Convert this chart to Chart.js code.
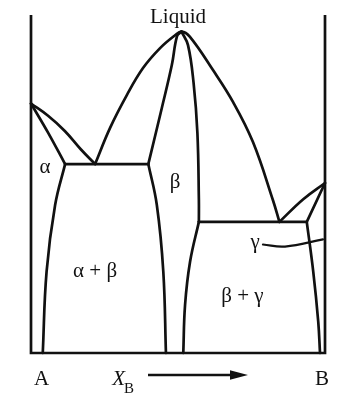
<!DOCTYPE html>
<html>
<head>
<meta charset="utf-8">
<script src="https://cdn.jsdelivr.net/npm/chart.js@4.4.1/dist/chart.umd.min.js"></script>
<style>
  html, body { margin: 0; padding: 0; background: #fff; }
  canvas { display: block; }
</style>
</head>
<body>
<canvas id="diagram" width="337" height="395"></canvas>
<script>
// Binary A–B phase diagram: x = mole % of B, y = temperature (arbitrary units, 0–1000)

// frame: the two pure-component axes joined by the base line
const frame = [[0, 1000], [0, 0], [100, 0], [100, 1000]];

// α side
const alphaLiquidus = [[0, 738], [5.8, 702], [11.5, 657], [17.0, 602], [21.8, 559]];
const alphaSolidus  = [[0, 738], [5.8, 652], [11.6, 559]];
const alphaSolvus   = [[11.6, 559], [8.2, 438], [5.3, 241], [4.0, 0]];
const eutectic      = [[11.6, 559], [39.9, 559]];

// congruently melting β and the liquidus over it
const liquidus = [
  [21.8, 559], [26.9, 666], [32.6, 763], [38.1, 843], [43.9, 902], [49.0, 940],
  [51.2, 951], [54.0, 936], [61.9, 837], [68.7, 743], [75.5, 624], [82.3, 452], [84.5, 388]
];
const betaSolidusLeft  = [[39.9, 559], [44.5, 725], [47.9, 852], [49.7, 938], [51.2, 951]];
const betaSolidusRight = [[51.2, 951], [53.4, 911], [55.3, 799], [56.6, 651], [57.1, 453], [57.1, 388]];
const betaSolvusLeft   = [[39.9, 559], [42.8, 438], [45.0, 241], [45.9, 0]];
const betaSolvusRight  = [[57.1, 388], [54.1, 270], [52.4, 142], [51.8, 0]];

// γ side with the peritectic
const peritectic    = [[57.1, 388], [93.8, 388]];
const gammaLiquidus = [[100, 503], [92.6, 455], [84.5, 388]];
const gammaSolidus  = [[100, 503], [93.8, 388]];
const gammaSolvus   = [[93.8, 388], [96.0, 241], [97.7, 93], [98.3, 0]];
const gammaLeader   = [[78.9, 321], [86.4, 315], [99.3, 336]];

// field labels
const fieldNames = ['Liquid', 'α', 'β', 'α + β', 'γ', 'β + γ'];
const fieldAnchors = [[50.0, 976], [4.8, 532], [49.0, 488], [21.8, 225], [76.2, 311], [71.9, 151]];

// axis captions
const endMembers = ['A', 'B'];
const endAnchors = [[3.6, -95], [99.0, -95]];
const compositionSymbol = ['X', 'B'];
const symbolAnchor = [27.6, -95];
const arrowSpan = [[39.8, -65], [73.8, -65]];

const toPts = arr => arr.map(([x, y]) => ({ x, y }));

function curve(data, opts = {}) {
  return Object.assign({
    data: toPts(data),
    showLine: true,
    borderColor: '#111',
    borderWidth: 2.7,
    borderCapStyle: 'round',
    borderJoinStyle: 'round',
    pointRadius: 0,
    tension: 0.4,
    clip: false
  }, opts);
}

const SERIF = '"Liberation Serif", "DejaVu Serif", serif';

const annotate = {
  id: 'annotate',
  afterDatasetsDraw(chart) {
    const { ctx, scales: { x, y } } = chart;
    ctx.save();
    ctx.fillStyle = '#111';
    ctx.textBaseline = 'alphabetic';
    ctx.textAlign = 'center';
    ctx.font = '21px ' + SERIF;
    fieldNames.forEach((t, i) => {
      ctx.fillText(t, x.getPixelForValue(fieldAnchors[i][0]), y.getPixelForValue(fieldAnchors[i][1]));
    });
    endMembers.forEach((t, i) => {
      ctx.fillText(t, x.getPixelForValue(endAnchors[i][0]), y.getPixelForValue(endAnchors[i][1]));
    });

    // X_B
    ctx.textAlign = 'left';
    const sx = x.getPixelForValue(symbolAnchor[0]);
    const sy = y.getPixelForValue(symbolAnchor[1]);
    ctx.font = 'italic 21px ' + SERIF;
    ctx.fillText(compositionSymbol[0], sx, sy);
    const w = ctx.measureText(compositionSymbol[0]).width;
    ctx.font = '15px ' + SERIF;
    ctx.fillText(compositionSymbol[1], sx + w - 1, sy + 8);

    // arrow showing increasing B content
    const ax0 = x.getPixelForValue(arrowSpan[0][0]);
    const ax1 = x.getPixelForValue(arrowSpan[1][0]);
    const ay = y.getPixelForValue(arrowSpan[0][1]);
    ctx.strokeStyle = '#111';
    ctx.lineWidth = 2.4;
    ctx.beginPath();
    ctx.moveTo(ax0, ay);
    ctx.lineTo(ax1 - 14, ay);
    ctx.stroke();
    ctx.beginPath();
    ctx.moveTo(ax1, ay);
    ctx.lineTo(ax1 - 18, ay - 4.8);
    ctx.lineTo(ax1 - 18, ay + 4.8);
    ctx.closePath();
    ctx.fill();
    ctx.restore();
  }
};

new Chart(document.getElementById('diagram'), {
  type: 'scatter',
  data: {
    datasets: [
      curve(frame, { tension: 0, borderCapStyle: 'butt', borderJoinStyle: 'miter' }),
      curve(alphaLiquidus),
      curve(alphaSolidus),
      curve(alphaSolvus),
      curve(eutectic, { tension: 0 }),
      curve(liquidus),
      curve(betaSolidusLeft),
      curve(betaSolidusRight),
      curve(betaSolvusLeft),
      curve(betaSolvusRight),
      curve(peritectic, { tension: 0 }),
      curve(gammaLiquidus),
      curve(gammaSolidus, { tension: 0 }),
      curve(gammaSolvus),
      curve(gammaLeader, { borderWidth: 2.2 })
    ]
  },
  options: {
    responsive: false,
    animation: false,
    devicePixelRatio: 1,
    layout: { padding: { left: 31, right: 12, top: 15, bottom: 42 } },
    scales: {
      x: { type: 'linear', min: 0, max: 100, display: false },
      y: { type: 'linear', min: 0, max: 1000, display: false }
    },
    plugins: { legend: { display: false }, tooltip: { enabled: false } },
    events: []
  },
  plugins: [annotate]
});
</script>
</body>
</html>
